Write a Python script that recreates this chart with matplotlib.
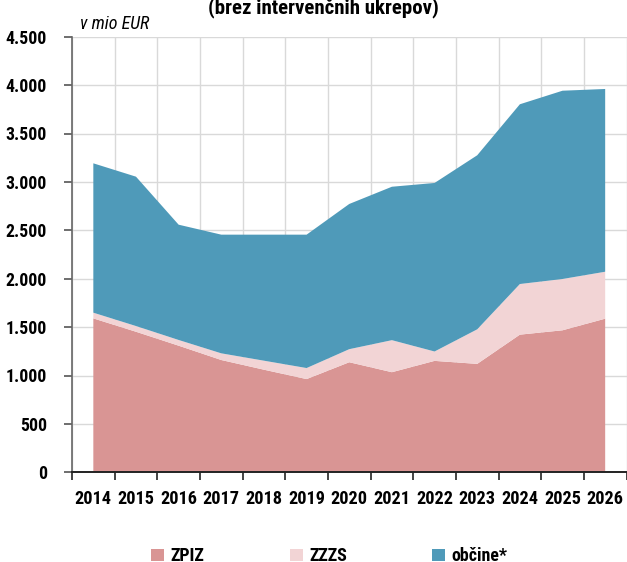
import matplotlib
matplotlib.use("Agg")
import matplotlib.pyplot as plt
import numpy as np
from matplotlib.patches import Rectangle
from matplotlib.font_manager import FontProperties, fontManager

years = ["2014", "2015", "2016", "2017", "2018", "2019", "2020",
         "2021", "2022", "2023", "2024", "2025", "2026"]
zpiz = [1590, 1452, 1308, 1160, 1060, 963, 1137, 1034, 1151, 1120, 1422, 1467, 1587]
zzzs = [59, 59, 59, 69, 93, 114, 135, 331, 97, 357, 523, 530, 485]
obcine = [1543, 1543, 1191, 1226, 1302, 1378, 1500, 1585, 1741, 1798, 1857, 1945, 1888]
series_names = ["ZPIZ", "ZZZS", "občine*"]
colors = ["#d99594", "#f2d4d5", "#4f9ab9"]
yticks = [0, 500, 1000, 1500, 2000, 2500, 3000, 3500, 4000, 4500]
ytick_labels = ["0", "500", "1.000", "1.500", "2.000", "2.500", "3.000", "3.500", "4.000", "4.500"]

# pick a condensed face if one is installed
fam = ['DejaVu Sans']
stretch = 'normal'
avail = {(f.name, f.stretch) for f in fontManager.ttflist}
for name in ['Roboto Condensed', 'Liberation Sans Narrow', 'Open Sans Condensed',
             'Noto Sans Condensed', 'DejaVu Sans Condensed']:
    if any(n == name for n, s in avail):
        fam = [name, 'DejaVu Sans']
        break
else:
    for name in ['Noto Sans', 'Open Sans', 'DejaVu Sans', 'Roboto']:
        if any(n == name and s in ('condensed', 'semi-condensed', 'extra-condensed', 'ultra-condensed')
               for n, s in avail):
            fam = [name, 'DejaVu Sans']
            stretch = 'condensed'
            break
plt.rcParams['font.family'] = fam
plt.rcParams['font.stretch'] = stretch

W, H = 627, 562
fig = plt.figure(figsize=(W / 100, H / 100), dpi=100)
renderer = fig.canvas.get_renderer()


def fit(text, target_w, max_size, **kw):
    t = fig.text(0, 0, text, fontsize=max_size, **kw)
    w = t.get_window_extent(renderer).width
    t.remove()
    return min(max_size, max_size * target_w / w)


tick_fs = fit("2014", 37, 14.5, fontweight='bold')
ytick_fs = fit("4.500", 41, 14.5, fontweight='bold')
title_fs = fit("(brez intervenčnih ukrepov)", 262, 15, fontweight='bold')
unit_fs = fit("v mio EUR", 72, 13, fontstyle='italic')
leg_fs = fit("občine*", 56, 14.5, fontweight='bold')

ax = fig.add_axes([72 / W, 1 - 472.3 / H, (626.5 - 72) / W, (472.3 - 36.7) / H])

x = np.arange(len(years)) + 0.5
ax.stackplot(x, zpiz, zzzs, obcine, colors=colors, linewidth=0, zorder=2)

ax.set_xlim(0, len(years))
ax.set_ylim(0, 4500)
ax.set_yticks(yticks)
ax.set_yticklabels(ytick_labels, fontsize=ytick_fs, fontweight='bold')
ax.set_xticks(np.arange(len(years) + 1))
ax.set_xticklabels([])
ax.set_xticks(x, minor=True)
ax.set_xticklabels(years, minor=True, fontsize=tick_fs, fontweight='bold')
ax.tick_params(axis='x', which='minor', length=0, pad=13)
ax.tick_params(axis='x', which='major', length=6, width=1.2, color='#222222', direction='out')
ax.tick_params(axis='y', length=6, width=1.2, color='#555555', direction='out', pad=12)

ax.grid(True, which='major', color='#d9d9d9', linewidth=1)
ax.set_axisbelow(True)
for s in ['top', 'right']:
    ax.spines[s].set_visible(False)
ax.spines['left'].set_color('#666666')
ax.spines['left'].set_linewidth(1.2)
ax.spines['bottom'].set_color('#222222')
ax.spines['bottom'].set_linewidth(1.4)

fig.text(323 / W, 1 - 13 / H, "(brez intervenčnih ukrepov)", ha='center', va='baseline',
         fontsize=title_fs, fontweight='bold')
fig.text(80 / W, 1 - 29 / H, "v mio EUR", ha='left', va='baseline',
         fontsize=unit_fs, fontstyle='italic')

# legend
leg_x = [151, 290, 432]
for lx, name, c in zip(leg_x, series_names, colors):
    fig.patches.append(Rectangle((lx / W, 1 - 561 / H), 12.5 / W, 12.5 / H,
                                 transform=fig.transFigure, facecolor=c, edgecolor='none'))
    fig.text((lx + 19) / W, 1 - 561 / H, name, ha='left', va='baseline',
             fontsize=leg_fs, fontweight='bold')

fig.savefig("out.png", dpi=100)
